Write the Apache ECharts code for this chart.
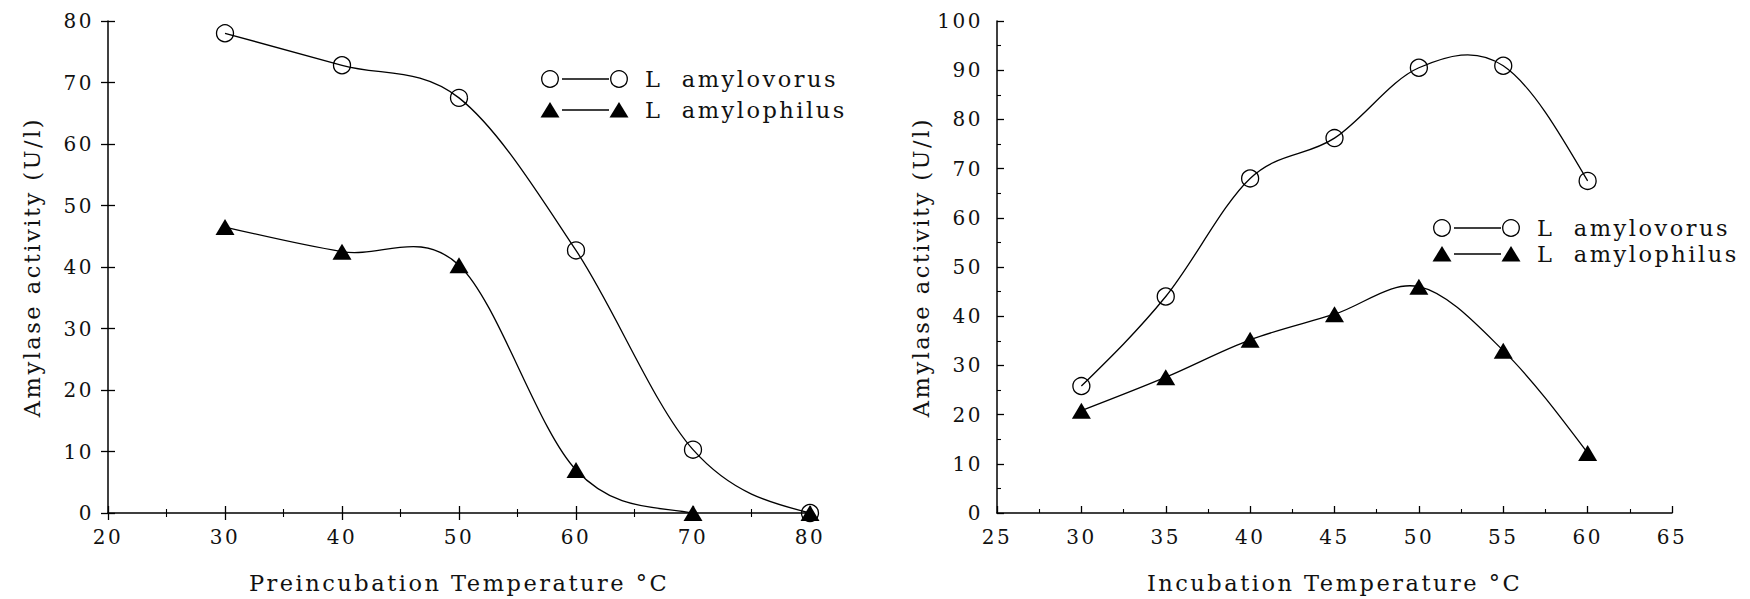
<!DOCTYPE html>
<html>
<head>
<meta charset="utf-8">
<script src="https://cdn.jsdelivr.net/npm/echarts@6/dist/echarts.min.js"></script>
<style>
  html, body { margin: 0; padding: 0; background: #fff; }
  #chart { width: 1750px; height: 599px; letter-spacing: 2.5px; }
  #chart text { white-space: pre; }
</style>
</head>
<body>
<div id="chart"></div>
<script>
// Preincubation panel: residual activity after heating
const preTemps = [30, 40, 50, 60, 70, 80];
const preAmylovorus = [78, 72.8, 67.5, 42.7, 10.3, 0];
const preAmylophilus = [46.5, 42.5, 40.3, 7, 0, 0];

// Incubation panel: activity at assay temperature
const incTemps = [30, 35, 40, 45, 50, 55, 60];
const incAmylovorus = [25.8, 44, 68, 76.2, 90.5, 90.9, 67.5];
const incAmylophilus = [20.8, 27.6, 35.2, 40.4, 46, 33, 12.2];

const speciesNames = ['L  amylovorus', 'L  amylophilus'];
const xTitles = ['Preincubation Temperature °C', 'Incubation Temperature °C'];
const yTitle = 'Amylase activity (U/l)';

const FONT = 'DejaVu Serif';
const INK = '#000';
const TEXT = '#111';

// Cubic spline (natural ends) through the data, built in pixel space
function splinePath(api, xs, ys) {
  const p = xs.map((x, i) => api.coord([x, ys[i]]));
  const n = p.length;
  const m = new Array(n);
  for (let i = 1; i < n - 1; i++) {
    m[i] = [(p[i + 1][0] - p[i - 1][0]) / 2, (p[i + 1][1] - p[i - 1][1]) / 2];
  }
  m[0] = [(3 * (p[1][0] - p[0][0]) - m[1][0]) / 2, (3 * (p[1][1] - p[0][1]) - m[1][1]) / 2];
  m[n - 1] = [(3 * (p[n - 1][0] - p[n - 2][0]) - m[n - 2][0]) / 2,
              (3 * (p[n - 1][1] - p[n - 2][1]) - m[n - 2][1]) / 2];
  let d = 'M' + p[0][0] + ' ' + p[0][1];
  for (let i = 0; i < n - 1; i++) {
    const c1 = [p[i][0] + m[i][0] / 3, p[i][1] + m[i][1] / 3];
    const c2 = [p[i + 1][0] - m[i + 1][0] / 3, p[i + 1][1] - m[i + 1][1] / 3];
    d += ' C' + c1[0] + ' ' + c1[1] + ' ' + c2[0] + ' ' + c2[1] + ' ' + p[i + 1][0] + ' ' + p[i + 1][1];
  }
  return d;
}

function curveSeries(axisIdx, xs, ys) {
  return {
    type: 'custom',
    xAxisIndex: axisIdx,
    yAxisIndex: axisIdx,
    clip: true,
    silent: true,
    z: 2,
    data: xs.map((x, i) => [x, ys[i]]),
    renderItem: function (params, api) {
      if (params.dataIndex !== 0) return null;
      return {
        type: 'path',
        shape: { pathData: splinePath(api, xs, ys) },
        style: { stroke: INK, fill: 'none', lineWidth: 1.3 }
      };
    }
  };
}

function markerSeries(axisIdx, xs, ys, hollow) {
  return {
    type: 'scatter',
    xAxisIndex: axisIdx,
    yAxisIndex: axisIdx,
    silent: true,
    z: hollow ? 3 : 4,
    symbol: hollow ? 'circle' : 'triangle',
    symbolSize: hollow ? 17 : [19, 16],
    itemStyle: hollow
      ? { color: 'rgba(0,0,0,0)', borderColor: INK, borderWidth: 1.3, opacity: 1 }
      : { color: INK, opacity: 1 },
    data: xs.map((x, i) => [x, ys[i]])
  };
}

const labelStyle = { color: TEXT, fontFamily: FONT, fontSize: 20 };
const nameStyle = { color: TEXT, fontFamily: FONT, fontSize: 22.5 };

function xAxisPair(gridIndex, min, max, interval, crossing, title) {
  const main = {
    gridIndex, type: 'value', min, max, interval, position: 'bottom',
    axisLine: { show: true, onZero: false, lineStyle: { color: INK, width: 1.5 } },
    axisTick: { show: true, inside: !crossing, length: 7, lineStyle: { color: INK, width: 1.3 } },
    minorTick: { show: true, splitNumber: 2, length: 4, lineStyle: { color: INK, width: 1.1 } },
    axisLabel: Object.assign({ margin: 14 }, labelStyle),
    splitLine: { show: false },
    name: title, nameLocation: 'middle', nameGap: 58, nameMoveOverlap: false,
    nameTextStyle: nameStyle
  };
  const axes = [main];
  if (crossing) {
    axes.push({
      gridIndex, type: 'value', min, max, interval, position: 'bottom', offset: 0,
      axisLine: { show: false, onZero: false },
      axisTick: { show: true, inside: true, length: 7, lineStyle: { color: INK, width: 1.3 } },
      minorTick: { show: true, splitNumber: 2, length: 4, lineStyle: { color: INK, width: 1.1 } },
      axisLabel: { show: false },
      splitLine: { show: false }
    });
  }
  return axes;
}

function yAxisPair(gridIndex, min, max, interval, crossing, minor) {
  const main = {
    gridIndex, type: 'value', min, max, interval, position: 'left',
    axisLine: { show: true, onZero: false, lineStyle: { color: INK, width: 1.5 } },
    axisTick: { show: true, inside: !crossing, length: 7, lineStyle: { color: INK, width: 1.3 } },
    minorTick: { show: minor, splitNumber: 2, length: 4, lineStyle: { color: INK, width: 1.1 } },
    axisLabel: Object.assign({ margin: 14 }, labelStyle),
    splitLine: { show: false },
    name: yTitle, nameLocation: 'middle', nameGap: 65, nameMoveOverlap: false,
    nameTextStyle: nameStyle
  };
  const axes = [main];
  if (crossing) {
    axes.push({
      gridIndex, type: 'value', min, max, interval, position: 'left', offset: 0,
      axisLine: { show: false, onZero: false },
      axisTick: { show: true, inside: true, length: 7, lineStyle: { color: INK, width: 1.3 } },
      axisLabel: { show: false },
      splitLine: { show: false }
    });
  }
  return axes;
}

// Legend keys: marker, line, marker, species name
function legendKey(cx, cy, hollow, label) {
  const els = [];
  const mark = (x) => hollow
    ? { type: 'circle', shape: { cx: x, cy: cy, r: 8.3 },
        style: { fill: 'none', stroke: INK, lineWidth: 1.3 } }
    : { type: 'polygon', shape: { points: [[x, cy - 8], [x + 9.5, cy + 7.5], [x - 9.5, cy + 7.5]] },
        style: { fill: INK } };
  els.push(mark(cx));
  els.push({ type: 'line', shape: { x1: cx + 12, y1: cy, x2: cx + 59, y2: cy },
             style: { stroke: INK, lineWidth: 1.3 } });
  els.push(mark(cx + 69));
  els.push({ type: 'text', x: cx + 95, y: cy,
             style: { text: label, fill: TEXT, font: '22.5px "' + FONT + '"',
                      verticalAlign: 'middle', align: 'left' } });
  return els;
}

const chart = echarts.init(document.getElementById('chart'), null, { renderer: 'svg' });

const xAxes = [].concat(
  xAxisPair(0, 20, 80, 10, true, xTitles[0]),
  xAxisPair(1, 25, 65, 5, false, xTitles[1])
);
const yAxes = [].concat(
  yAxisPair(0, 0, 80, 10, true, false),
  yAxisPair(1, 0, 100, 10, false, true)
);

chart.setOption({
  animation: false,
  backgroundColor: '#fff',
  grid: [
    { left: 108, top: 21, width: 702, height: 492, outerBoundsMode: 'none', containLabel: false },
    { left: 997, top: 21, width: 675, height: 492, outerBoundsMode: 'none', containLabel: false }
  ],
  xAxis: xAxes,
  yAxis: yAxes,
  series: [
    curveSeries(0, preTemps, preAmylovorus),
    curveSeries(0, preTemps, preAmylophilus),
    markerSeries(0, preTemps, preAmylovorus, true),
    markerSeries(0, preTemps, preAmylophilus, false),
    curveSeries(2, incTemps, incAmylovorus),
    curveSeries(2, incTemps, incAmylophilus),
    markerSeries(2, incTemps, incAmylovorus, true),
    markerSeries(2, incTemps, incAmylophilus, false)
  ],
  graphic: [].concat(
    legendKey(550, 79, true, speciesNames[0]),
    legendKey(550, 110, false, speciesNames[1]),
    legendKey(1442, 228, true, speciesNames[0]),
    legendKey(1442, 254, false, speciesNames[1])
  )
});
</script>
</body>
</html>
